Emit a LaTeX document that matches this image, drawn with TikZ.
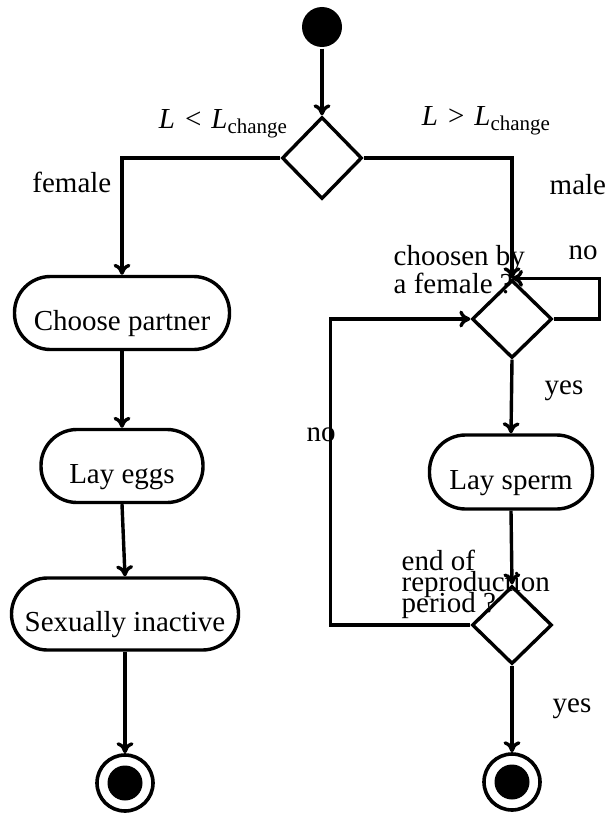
\documentclass[tikz,border=0pt]{standalone}
\usepackage{fontspec}
\setmainfont{Liberation Serif}
\usetikzlibrary{shapes.geometric,arrows.meta}
\newcommand{\subch}{\raisebox{-5pt}{\fontsize{21}{21}\selectfont change}}
\begin{document}
\begin{tikzpicture}[x=1pt,y=-1pt, line width=3.4pt,
  every node/.style={font=\fontsize{29}{24}\selectfont},
  act/.style={rectangle, rounded corners=36pt, draw, minimum height=73pt, inner sep=0pt, text height=35pt, text depth=0pt},
  dec/.style={diamond, draw, minimum width=80pt, minimum height=78pt, inner sep=0pt},
  endst/.style={circle, draw, line width=3.6pt, minimum size=56pt, inner sep=0pt, path picture={\fill (path picture bounding box.center) circle[radius=17.5pt];}},
  flow/.style={-{To[length=11pt,width=17pt]}},
  lbl/.style={inner sep=0pt}
]
\useasboundingbox (0,0) rectangle (607,816);

\node[fill, circle, minimum size=40pt, inner sep=0pt] (start) at (322,27) {};
\node[dec, minimum height=82pt] (d1) at (322,158) {};
\node[act, minimum width=215pt] (choose) at (122,313) {Choose partner};
\node[act, minimum width=162pt] (eggs) at (122,466) {Lay eggs};
\node[act, minimum width=227pt, minimum height=72pt] (inactive) at (125,614) {Sexually inactive};
\node[endst] (endL) at (125,783) {};
\node[dec] (d2) at (512,319) {};
\node[act, minimum width=163pt, minimum height=74pt] (sperm) at (511,472) {Lay sperm};
\node[dec] (d3) at (512,625) {};
\node[endst] (endR) at (512,782) {};

% labels
\node[lbl, anchor=base] (lt) at (223,128) {\textit{L}\hspace{10pt}<\hspace{10pt}\textit{L}\subch};
\node[lbl, anchor=base] (gt) at (486,125) {\textit{L}\hspace{10pt}>\hspace{10pt}\textit{L}\subch};
\node[lbl, anchor=base east] (fem) at (113,192) {female};
\node[lbl, anchor=base west] (mal) at (548,194) {male};
\node[lbl, anchor=north west, align=left] (q1) at (392,243.5) {choosen by\\a female ?};
\node[lbl, anchor=base west] (no1) at (567,259) {no};
\node[lbl, anchor=base west] (yes1) at (543,394) {yes};
\node[lbl, anchor=base west] (no2) at (305,441) {no};
\node[lbl, anchor=north west, align=left, font={\fontsize{29}{21}\selectfont\lineskiplimit=-100pt}] (q2) at (400,548.5) {end of\\reproduction\\period ?};
\node[lbl, anchor=base west] (yes2) at (551,712) {yes};

% connectors
\draw[flow] (start) -- (d1.north);
\draw[flow] (d1.west) -| (choose.north);
\draw[flow] (d1.east) -| (d2.north);
\draw[flow] (choose) -- (eggs);
\draw[flow] (eggs.south) -- (inactive.north);
\draw[flow] (inactive.south) -- (endL.north);
\draw[flow] (d2.east) -- ++(46,0) |- (d2.north);
\draw[flow] (d2.south) -- (sperm.north);
\draw[flow] (sperm.south) -- (d3.north);
\draw[flow] (d3.west) -- ++(-140,0) |- (d2.west);
\draw[flow] (d3.south) -- (endR.north);
\end{tikzpicture}
\end{document}
